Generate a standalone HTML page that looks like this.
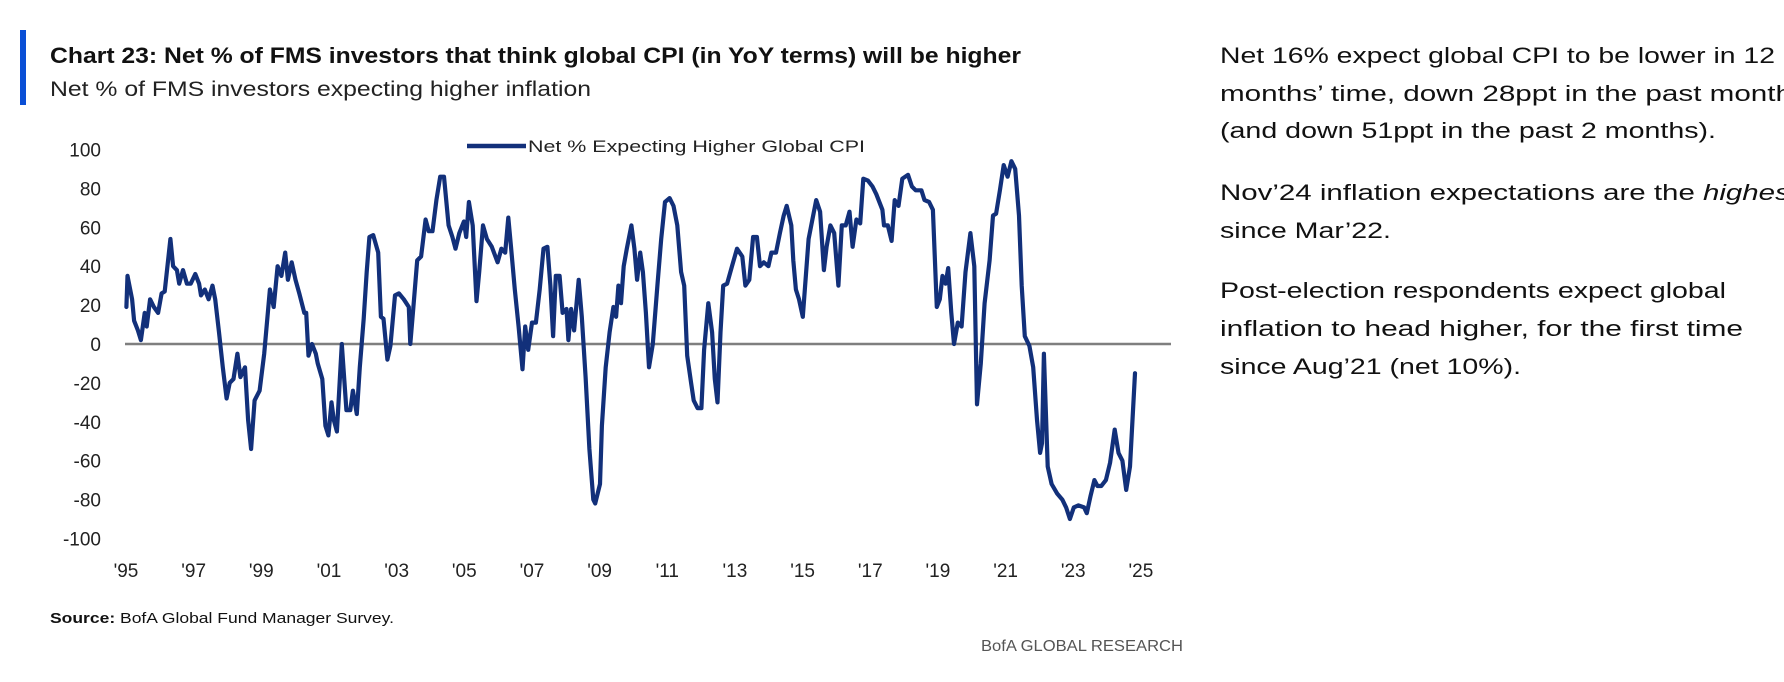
<!DOCTYPE html>
<html><head><meta charset="utf-8"><style>
html,body{margin:0;padding:0;background:#fff;}
svg{display:block;font-family:"Liberation Sans Narrow","Liberation Sans",sans-serif;}
</style></head><body>
<svg id="chart" width="1784" height="682" viewBox="0 0 1784 682" xmlns="http://www.w3.org/2000/svg">
<rect x="20" y="30" width="6" height="75" fill="#0a4fd6"/>
<text x="50" y="63" font-size="22" font-weight="bold" fill="#111" textLength="971" lengthAdjust="spacingAndGlyphs">Chart 23: Net % of FMS investors that think global CPI (in YoY terms) will be higher</text>
<text x="50" y="96" font-size="21" fill="#222" textLength="541" lengthAdjust="spacingAndGlyphs">Net % of FMS investors expecting higher inflation</text>
<g font-size="22" fill="#111">
<text x="1220" y="63" textLength="555" lengthAdjust="spacingAndGlyphs">Net 16% expect global CPI to be lower in 12</text>
<text x="1220" y="101" textLength="572" lengthAdjust="spacingAndGlyphs">months’ time, down 28ppt in the past month</text>
<text x="1220" y="138" textLength="496" lengthAdjust="spacingAndGlyphs">(and down 51ppt in the past 2 months).</text>
<text x="1220" y="200" textLength="578" lengthAdjust="spacingAndGlyphs">Nov’24 inflation expectations are the <tspan font-style="italic">highest</tspan></text>
<text x="1220" y="238" textLength="171" lengthAdjust="spacingAndGlyphs">since Mar’22.</text>
<text x="1220" y="298" textLength="506" lengthAdjust="spacingAndGlyphs">Post-election respondents expect global</text>
<text x="1220" y="336" textLength="523" lengthAdjust="spacingAndGlyphs">inflation to head higher, for the first time</text>
<text x="1220" y="374" textLength="301" lengthAdjust="spacingAndGlyphs">since Aug’21 (net 10%).</text>
</g>
<g>
<line x1="467" y1="146" x2="526" y2="146" stroke="#12307a" stroke-width="4.5"/>
<text x="528" y="152" font-size="17" fill="#222" textLength="337" lengthAdjust="spacingAndGlyphs">Net % Expecting Higher Global CPI</text>
</g>
<g id="yaxis"></g>
<g id="xaxis"></g>
<line id="zero" stroke="#7f7f7f" stroke-width="2.5"/>
<path id="series" fill="none" stroke="#12307a" stroke-width="4.2" stroke-linejoin="round" stroke-linecap="round"/>
<text x="50" y="623" font-size="15" fill="#111" textLength="344" lengthAdjust="spacingAndGlyphs"><tspan font-weight="bold">Source:</tspan> BofA Global Fund Manager Survey.</text>
<text x="981" y="651" font-size="16" fill="#555" textLength="202" lengthAdjust="spacingAndGlyphs">BofA GLOBAL RESEARCH</text>
</svg>
<script>
const yTicks = [100, 80, 60, 40, 20, 0, -20, -40, -60, -80, -100];
const xTickYears = [1995,1997,1999,2001,2003,2005,2007,2009,2011,2013,2015,2017,2019,2021,2023,2025];
const xTickLabels = ["'95","'97","'99","'01","'03","'05","'07","'09","'11","'13","'15","'17","'19","'21","'23","'25"];
const zoom2Px = [330,333,345,350,360,368,378,383,392,402,413,422,430,445,452,462,468,478,488,498,510,520,525,535,545,555,562,572,582,592,600,610,620,628,640,648,656,665,678,690,705,715,725,735,745,752,762,772,782,795,800,806,815,825,830,842,850,858,866,872,880,893,905,915,922,932,940,950,958,965,975,988,995,1002,1012,1020,1032,1042,1055,1068,1072,1080,1090,1100,1112,1120,1130,1140,1150,1160,1172,1182,1190,1200,1212,1218,1225,1235,1245,1252,1262,1272,1285,1300,1310,1320,1328,1335,1345,1355,1365,1372,1380,1390,1400,1410,1420,1430,1438,1445,1452,1462,1470,1480,1485,1492,1500,1512,1520,1530,1540,1550,1555];
const dates1 = zoom2Px.map(p => +(1995 + (p - 329) / 88.4).toFixed(3));
const values1 = [19,35,23,12,7,2,16,9,23,19,16,26,27,54,40,38,31,38,31,31,36,31,25,28,23,30,23,6,-12,-28,-20,-18,-5,-17,-12,-39,-54,-29,-24,-5,28,19,40,35,47,33,42,33,26,16,16,-6,0,-5,-10,-18,-42,-47,-30,-39,-45,0,-34,-34,-24,-36,-12,13,37,55,56,47,14,13,-8,-1,25,26,23,19,0,19,43,45,64,58,58,74,86,86,61,55,49,57,63,55,73,61,22,37,61,54,50,42,49,47,65,50,28,9,-13,9,-3,11,11,28,49,50,30,4,35,35,16,18,2,18,7,33,14,-17,-54,-80,-82];
const zoom3Px = [0,5,15,25,35,42,48,55,62,70,82,90,97,105,112,120,128,138,150,160,170,182,192,202,212,220,228,238,245,255,265,272,283,293,300,307,315,322,332,345,358,372,380,390,400,410,418,428,440,448,460,470,480,488,500,505,512,520,530,545,555,565,575,585,592,602,612,623,632,642,652,660,670,680,688,700,712,722,738,742,752,762,770,780,790,805,815,825,840,848,860,870,880,888,895,903,910,918,925,935,945,955,968,978,985,995,1005,1018,1027,1035,1045,1055,1065,1075,1085,1095,1102,1110,1122,1132,1142,1150,1155,1160,1165,1170,1180,1195,1208,1218,1228,1238,1250,1265,1272,1282,1292,1300,1310,1322,1333,1345,1355,1365,1375,1385,1398];
const dates2 = zoom3Px.map(p => +(2009.011 + p / 88.4).toFixed(3));
const values2 = [-72,-42,-12,6,19,14,30,21,40,49,61,49,33,47,37,16,-12,0,30,54,73,75,71,61,37,30,-6,-20,-29,-33,-33,-3,21,6,-18,-30,6,30,31,40,49,45,30,33,55,55,40,42,40,47,47,57,66,71,61,43,28,23,14,54,64,74,68,38,50,61,57,30,61,61,68,50,64,62,85,84,81,77,69,61,61,53,74,71,85,87,81,79,79,74,73,69,19,23,35,31,39,16,0,11,9,37,57,40,-31,-10,21,43,66,67,79,92,86,94,90,66,30,4,-1,-12,-39,-56,-51,-5,-34,-63,-72,-77,-80,-84,-90,-84,-83,-84,-87,-78,-70,-73,-73,-70,-61,-44,-56,-60,-75,-63,-15];
const dates = dates1.concat(dates2);
const values = values1.concat(values2);

const X0 = 126, PX_PER_YEAR = 33.83, Y0 = 344, PX_PER_UNIT = 1.945;
const xScale = d => X0 + (d - 1995) * PX_PER_YEAR;
const yScale = v => Y0 - v * PX_PER_UNIT;
const NS = "http://www.w3.org/2000/svg";

const yAxis = document.getElementById('yaxis');
yTicks.forEach(t => {
  const el = document.createElementNS(NS, 'text');
  
  
  el.setAttribute('x', 101);
  el.setAttribute('y', yScale(t) + 7);
  el.setAttribute('text-anchor', 'end');
  el.setAttribute('font-size', '19');
  el.setAttribute('fill', '#222');
  el.textContent = t;
  yAxis.appendChild(el);
});
const xAxis = document.getElementById('xaxis');
xTickYears.forEach((yr, i) => {
  const el = document.createElementNS(NS, 'text');
  
  
  el.setAttribute('x', xScale(yr));
  el.setAttribute('y', 577);
  el.setAttribute('text-anchor', 'middle');
  el.setAttribute('font-size', '19');
  el.setAttribute('fill', '#222');
  el.textContent = xTickLabels[i];
  xAxis.appendChild(el);
});
const zero = document.getElementById('zero');
zero.setAttribute('x1', 125); zero.setAttribute('x2', 1171);
zero.setAttribute('y1', yScale(0)); zero.setAttribute('y2', yScale(0));

let d = '';
for (let i = 0; i < dates.length; i++) {
  d += (i ? 'L' : 'M') + xScale(dates[i]).toFixed(1) + ',' + yScale(values[i]).toFixed(1);
}
document.getElementById('series').setAttribute('d', d);
</script>
</body></html>
